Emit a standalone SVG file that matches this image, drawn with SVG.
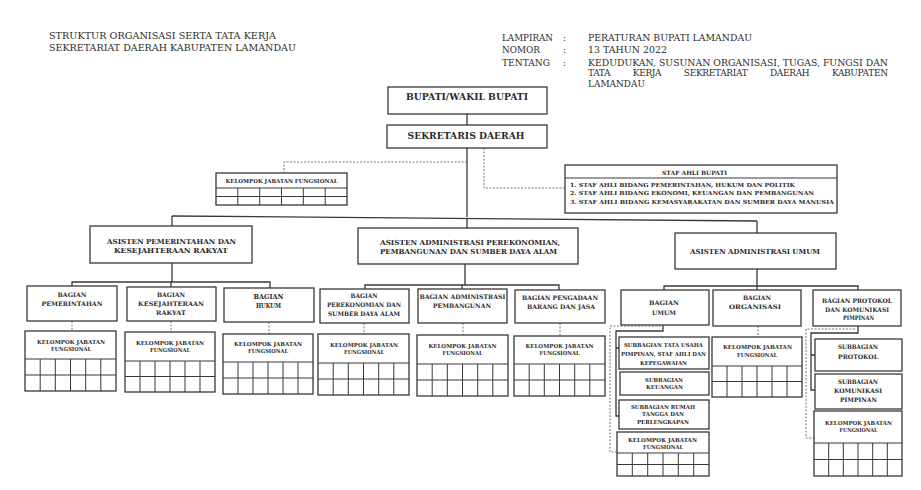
<svg xmlns="http://www.w3.org/2000/svg" width="921" height="490" viewBox="0 0 921 490">
<style>
.bg{fill:#fff}
.box{fill:#fff;stroke:#383838;stroke-width:1.3}
.grid{fill:none;stroke:#383838;stroke-width:1}
.ln{fill:none;stroke:#383838;stroke-width:1.3}
.dash{fill:none;stroke:#666;stroke-width:0.9;stroke-dasharray:2 1.5}
text{font-family:"DejaVu Serif","Liberation Serif",serif;fill:#2a2a2a}
.h{font-size:9px}
.b1{font-size:9px;font-weight:bold;text-anchor:middle}
.b2{font-size:7px;font-weight:bold;text-anchor:middle}
.b3{font-size:6.2px;font-weight:bold;text-anchor:middle}
.b4{font-size:5.5px;font-weight:bold;text-anchor:middle}
.b5{font-size:5.6px;font-weight:bold}
</style>
<rect class="bg" x="0" y="0" width="921" height="490"/>

<g id="header-left">
<text class="h" x="49" y="38.5" textLength="227" lengthAdjust="spacingAndGlyphs">STRUKTUR ORGANISASI SERTA TATA KERJA</text>
<text class="h" x="49" y="50.5" textLength="247" lengthAdjust="spacingAndGlyphs">SEKRETARIAT DAERAH KABUPATEN LAMANDAU</text>
</g>
<g id="header-right">
<text class="h" x="502" y="41" textLength="51" lengthAdjust="spacingAndGlyphs">LAMPIRAN</text>
<text class="h" x="502" y="53" textLength="38" lengthAdjust="spacingAndGlyphs">NOMOR</text>
<text class="h" x="502" y="66" textLength="48" lengthAdjust="spacingAndGlyphs">TENTANG</text>
<text class="h" x="563" y="41">:</text>
<text class="h" x="563" y="53">:</text>
<text class="h" x="563" y="66">:</text>
<text class="h" x="588" y="41" textLength="164" lengthAdjust="spacingAndGlyphs">PERATURAN BUPATI LAMANDAU</text>
<text class="h" x="588" y="53" textLength="79" lengthAdjust="spacingAndGlyphs">13 TAHUN 2022</text>
<text class="h" x="588" y="66" textLength="300" lengthAdjust="spacingAndGlyphs">KEDUDUKAN, SUSUNAN ORGANISASI, TUGAS, FUNGSI DAN</text>
<text class="h" x="588" y="76" textLength="300" lengthAdjust="spacing" word-spacing="20">TATA KERJA SEKRETARIAT DAERAH KABUPATEN</text>
<text class="h" x="588" y="87" textLength="57" lengthAdjust="spacingAndGlyphs">LAMANDAU</text>
</g>

<g id="connectors">
<path class="ln" d="M467,114 V125"/>
<path class="ln" d="M467,148 V217"/>
<path class="ln" d="M172,216 L757,221"/>
<path class="ln" d="M172,216 V226"/>
<path class="ln" d="M467,218.5 V228"/>
<path class="ln" d="M757,221 V233"/>
<path class="dash" d="M467,162 H284 V173"/>
<path class="dash" d="M484,148 V188 H565"/>
<path class="ln" d="M172,263 V282 M72,286 V282 H270 V288 M171,282 V287"/>
<path class="ln" d="M465,264 V285 M365,289 V285 H559 V290 M462,285 V289"/>
<path class="ln" d="M757,269 V286 M664,290 V286 H858 V290 M757,286 V290"/>
<path class="dash" d="M72,321 V331 M171,321 V332 M269,322 V334 M364,323 V334 M463,323 V335 M560,323 V336 M758,326 V337"/>
<path class="ln" d="M663,325 V331 H616 V416 H619 M616,348 H619"/>
<path class="dash" d="M661,326 H610 V452 H617"/>
<path class="ln" d="M858,326 V333 H811 V390 H815 M811,355 H815"/>
<path class="dash" d="M855,329 H806 V438 H814"/>
</g>

<g id="bupati">
<rect class="box" x="388" y="87" width="159" height="27"/>
<text class="b1" x="467" y="100" textLength="122" lengthAdjust="spacingAndGlyphs">BUPATI/WAKIL BUPATI</text>
</g>
<g id="sekda">
<rect class="box" x="387" y="125" width="160" height="23"/>
<text class="b1" x="466" y="138.5" textLength="117" lengthAdjust="spacingAndGlyphs">SEKRETARIS DAERAH</text>
</g>

<g id="staf-ahli">
<rect class="box" x="565" y="165" width="272" height="48"/>
<path class="grid" d="M565,178 H837"/>
<text class="b4" x="694.5" y="175" textLength="65" lengthAdjust="spacingAndGlyphs" style="font-size:5.8px">STAF AHLI BUPATI</text>
<text class="b5" x="570" y="186.5" textLength="225" lengthAdjust="spacingAndGlyphs">1. STAF AHLI BIDANG PEMERINTAHAN, HUKUM DAN POLITIK</text>
<text class="b5" x="570" y="195" textLength="244" lengthAdjust="spacingAndGlyphs">2. STAF AHLI BIDANG EKONOMI, KEUANGAN DAN PEMBANGUNAN</text>
<text class="b5" x="570" y="203.5" textLength="264" lengthAdjust="spacingAndGlyphs">3. STAF AHLI BIDANG KEMASYARAKATAN DAN SUMBER DAYA MANUSIA</text>
</g>

<g id="kjf-sekda">
<rect class="box" x="216" y="173" width="131" height="32"/>
<path class="grid" d="M216,188 H347 M216,196.5 H347 M237.8,188 V205 M259.7,188 V205 M281.5,188 V205 M303.3,188 V205 M325.2,188 V205"/>
<text class="b4" x="281.5" y="183" textLength="112" lengthAdjust="spacingAndGlyphs">KELOMPOK JABATAN FUNGSIONAL</text>
</g>

<g id="asisten-1">
<rect class="box" x="90" y="226" width="162" height="37"/>
<text class="b2" x="171.5" y="244" textLength="129" lengthAdjust="spacingAndGlyphs">ASISTEN PEMERINTAHAN DAN</text>
<text class="b2" x="171" y="253" textLength="114" lengthAdjust="spacingAndGlyphs">KESEJAHTERAAN RAKYAT</text>
</g>
<g id="asisten-2">
<rect class="box" x="358" y="228" width="220" height="36"/>
<text class="b2" x="470" y="244.5" textLength="180" lengthAdjust="spacingAndGlyphs">ASISTEN ADMINISTRASI PEREKONOMIAN,</text>
<text class="b2" x="468.5" y="253.5" textLength="177" lengthAdjust="spacingAndGlyphs">PEMBANGUNAN DAN SUMBER DAYA ALAM</text>
</g>
<g id="asisten-3">
<rect class="box" x="675" y="233" width="161" height="36"/>
<text class="b2" x="755" y="253.5" textLength="130" lengthAdjust="spacingAndGlyphs">ASISTEN ADMINISTRASI UMUM</text>
</g>

<g id="bagian-pemerintahan">
<rect class="box" x="27" y="286" width="90" height="35"/>
<text class="b3" x="72" y="297" textLength="29" lengthAdjust="spacingAndGlyphs">BAGIAN</text>
<text class="b3" x="72" y="306" textLength="61" lengthAdjust="spacingAndGlyphs">PEMERINTAHAN</text>
</g>
<g id="bagian-kesra">
<rect class="box" x="127" y="287" width="89" height="34"/>
<text class="b3" x="171" y="297" textLength="28" lengthAdjust="spacingAndGlyphs">BAGIAN</text>
<text class="b3" x="171" y="306" textLength="66" lengthAdjust="spacingAndGlyphs">KESEJAHTERAAN</text>
<text class="b3" x="171" y="315" textLength="30" lengthAdjust="spacingAndGlyphs">RAKYAT</text>
</g>
<g id="bagian-hukum">
<rect class="box" x="224" y="288" width="90" height="34"/>
<text class="b3" x="268.5" y="299" textLength="30" lengthAdjust="spacingAndGlyphs" style="font-size:6.8px">BAGIAN</text>
<text class="b3" x="268.5" y="308" textLength="25" lengthAdjust="spacingAndGlyphs" style="font-size:6.8px">HUKUM</text>
</g>
<g id="bagian-perekonomian">
<rect class="box" x="320" y="289" width="89" height="34"/>
<text class="b3" x="364" y="298" textLength="27" lengthAdjust="spacingAndGlyphs">BAGIAN</text>
<text class="b3" x="364" y="307" textLength="74" lengthAdjust="spacingAndGlyphs">PEREKONOMIAN DAN</text>
<text class="b3" x="364" y="316" textLength="72" lengthAdjust="spacingAndGlyphs">SUMBER DAYA ALAM</text>
</g>
<g id="bagian-pembangunan">
<rect class="box" x="418" y="289" width="89" height="34"/>
<text class="b3" x="462.5" y="299" textLength="86" lengthAdjust="spacingAndGlyphs">BAGIAN ADMINISTRASI</text>
<text class="b3" x="462" y="308" textLength="58" lengthAdjust="spacingAndGlyphs">PEMBANGUNAN</text>
</g>
<g id="bagian-pengadaan">
<rect class="box" x="515" y="290" width="90" height="33"/>
<text class="b3" x="560" y="299.5" textLength="76" lengthAdjust="spacingAndGlyphs">BAGIAN PENGADAAN</text>
<text class="b3" x="561" y="309" textLength="68" lengthAdjust="spacingAndGlyphs">BARANG DAN JASA</text>
</g>
<g id="bagian-umum">
<rect class="box" x="621" y="290" width="88" height="35"/>
<text class="b3" x="664" y="305" textLength="30" lengthAdjust="spacingAndGlyphs">BAGIAN</text>
<text class="b3" x="664" y="315" textLength="24" lengthAdjust="spacingAndGlyphs">UMUM</text>
</g>
<g id="bagian-organisasi">
<rect class="box" x="713" y="290" width="88" height="36"/>
<text class="b3" x="757" y="300" textLength="28" lengthAdjust="spacingAndGlyphs">BAGIAN</text>
<text class="b3" x="755" y="309" textLength="52" lengthAdjust="spacingAndGlyphs">ORGANISASI</text>
</g>
<g id="bagian-protokol">
<rect class="box" x="813" y="290" width="88" height="36"/>
<text class="b3" x="857" y="303" textLength="70" lengthAdjust="spacingAndGlyphs">BAGIAN PROTOKOL</text>
<text class="b3" x="857" y="311.5" textLength="64" lengthAdjust="spacingAndGlyphs">DAN KOMUNIKASI</text>
<text class="b3" x="858.5" y="320" textLength="31" lengthAdjust="spacingAndGlyphs">PIMPINAN</text>
</g>

<g id="kjf-pemerintahan">
<rect class="box" x="25" y="331" width="91" height="60"/>
<path class="grid" d="M25,359 H116 M25,375 H116 M40.2,359 V391 M55.3,359 V391 M70.5,359 V391 M85.7,359 V391 M100.8,359 V391"/>
<text class="b4" x="71" y="344" textLength="68" lengthAdjust="spacingAndGlyphs">KELOMPOK JABATAN</text>
<text class="b4" x="71" y="351" textLength="40" lengthAdjust="spacingAndGlyphs">FUNGSIONAL</text>
</g>
<g id="kjf-kesra">
<rect class="box" x="125" y="332" width="90" height="60"/>
<path class="grid" d="M125,361 H215 M125,376.5 H215 M140,361 V392 M155,361 V392 M170,361 V392 M185,361 V392 M200,361 V392"/>
<text class="b4" x="170" y="345" textLength="68" lengthAdjust="spacingAndGlyphs">KELOMPOK JABATAN</text>
<text class="b4" x="170" y="352" textLength="40" lengthAdjust="spacingAndGlyphs">FUNGSIONAL</text>
</g>
<g id="kjf-hukum">
<rect class="box" x="223" y="334" width="90" height="60"/>
<path class="grid" d="M223,362 H313 M223,378 H313 M238,362 V394 M253,362 V394 M268,362 V394 M283,362 V394 M298,362 V394"/>
<text class="b4" x="268" y="346" textLength="68" lengthAdjust="spacingAndGlyphs">KELOMPOK JABATAN</text>
<text class="b4" x="268" y="353" textLength="40" lengthAdjust="spacingAndGlyphs">FUNGSIONAL</text>
</g>
<g id="kjf-perekonomian">
<rect class="box" x="318" y="334" width="91" height="61"/>
<path class="grid" d="M318,363 H409 M318,379 H409 M333.2,363 V395 M348.3,363 V395 M363.5,363 V395 M378.7,363 V395 M393.8,363 V395"/>
<text class="b4" x="364" y="346.5" textLength="68" lengthAdjust="spacingAndGlyphs">KELOMPOK JABATAN</text>
<text class="b4" x="364" y="353.5" textLength="40" lengthAdjust="spacingAndGlyphs">FUNGSIONAL</text>
</g>
<g id="kjf-pembangunan">
<rect class="box" x="417" y="335" width="91" height="61"/>
<path class="grid" d="M417,364 H508 M417,380 H508 M432.2,364 V396 M447.3,364 V396 M462.5,364 V396 M477.7,364 V396 M492.8,364 V396"/>
<text class="b4" x="462.5" y="347.5" textLength="68" lengthAdjust="spacingAndGlyphs">KELOMPOK JABATAN</text>
<text class="b4" x="462.5" y="354.5" textLength="40" lengthAdjust="spacingAndGlyphs">FUNGSIONAL</text>
</g>
<g id="kjf-pengadaan">
<rect class="box" x="514" y="336" width="91" height="60"/>
<path class="grid" d="M514,364 H605 M514,380 H605 M529.2,364 V396 M544.3,364 V396 M559.5,364 V396 M574.7,364 V396 M589.8,364 V396"/>
<text class="b4" x="559.5" y="348" textLength="68" lengthAdjust="spacingAndGlyphs">KELOMPOK JABATAN</text>
<text class="b4" x="559.5" y="355" textLength="40" lengthAdjust="spacingAndGlyphs">FUNGSIONAL</text>
</g>
<g id="kjf-organisasi">
<rect class="box" x="712" y="337" width="90" height="60"/>
<path class="grid" d="M712,366 H802 M712,381.5 H802 M727,366 V397 M742,366 V397 M757,366 V397 M772,366 V397 M787,366 V397"/>
<text class="b4" x="757.5" y="349" textLength="69" lengthAdjust="spacingAndGlyphs">KELOMPOK JABATAN</text>
<text class="b4" x="757" y="356.5" textLength="40" lengthAdjust="spacingAndGlyphs">FUNGSIONAL</text>
</g>

<g id="subbagian-tata-usaha">
<rect class="box" x="619" y="337" width="90" height="32"/>
<text class="b4" x="663.5" y="347" textLength="79" lengthAdjust="spacingAndGlyphs">SUBBAGIAN TATA USAHA</text>
<text class="b4" x="663.5" y="356" textLength="85" lengthAdjust="spacingAndGlyphs">PIMPINAN, STAF AHLI DAN</text>
<text class="b4" x="663.5" y="364.5" textLength="47" lengthAdjust="spacingAndGlyphs">KEPEGAWAIAN</text>
</g>
<g id="subbagian-keuangan">
<rect class="box" x="620" y="372" width="89" height="23"/>
<text class="b4" x="664" y="382" textLength="38" lengthAdjust="spacingAndGlyphs">SUBBAGIAN</text>
<text class="b4" x="664.5" y="389" textLength="37" lengthAdjust="spacingAndGlyphs">KEUANGAN</text>
</g>
<g id="subbagian-rumah-tangga">
<rect class="box" x="619" y="400" width="90" height="29"/>
<text class="b4" x="663" y="408.5" textLength="64" lengthAdjust="spacingAndGlyphs">SUBBAGIAN RUMAH</text>
<text class="b4" x="663" y="416" textLength="42" lengthAdjust="spacingAndGlyphs">TANGGA DAN</text>
<text class="b4" x="663" y="423.5" textLength="52" lengthAdjust="spacingAndGlyphs">PERLENGKAPAN</text>
</g>
<g id="kjf-umum">
<rect class="box" x="617" y="432" width="92" height="44"/>
<path class="grid" d="M617,453 H709 M617,464.5 H709 M632.3,453 V476 M647.7,453 V476 M663,453 V476 M678.3,453 V476 M693.7,453 V476"/>
<text class="b4" x="662.5" y="441.5" textLength="69" lengthAdjust="spacingAndGlyphs">KELOMPOK JABATAN</text>
<text class="b4" x="663" y="448.5" textLength="40" lengthAdjust="spacingAndGlyphs">FUNGSIONAL</text>
</g>

<g id="subbagian-protokol">
<rect class="box" x="815" y="339" width="87" height="32"/>
<text class="b3" x="858" y="348.5" textLength="40" lengthAdjust="spacingAndGlyphs">SUBBAGIAN</text>
<text class="b3" x="858" y="359" textLength="40" lengthAdjust="spacingAndGlyphs">PROTOKOL</text>
</g>
<g id="subbagian-komunikasi">
<rect class="box" x="815" y="374" width="87" height="35"/>
<text class="b3" x="858" y="384" textLength="40" lengthAdjust="spacingAndGlyphs">SUBBAGIAN</text>
<text class="b3" x="858" y="393" textLength="48" lengthAdjust="spacingAndGlyphs">KOMUNIKASI</text>
<text class="b3" x="858.5" y="401.5" textLength="37" lengthAdjust="spacingAndGlyphs">PIMPINAN</text>
</g>
<g id="kjf-protokol">
<rect class="box" x="814" y="411" width="88" height="65"/>
<path class="grid" d="M814,443 H902 M814,459.5 H902 M828.7,443 V476 M843.3,443 V476 M858,443 V476 M872.7,443 V476 M887.3,443 V476"/>
<text class="b4" x="858.5" y="424.5" textLength="67" lengthAdjust="spacingAndGlyphs">KELOMPOK JABATAN</text>
<text class="b4" x="858.5" y="432" textLength="38" lengthAdjust="spacingAndGlyphs">FUNGSIONAL</text>
</g>
</svg>
